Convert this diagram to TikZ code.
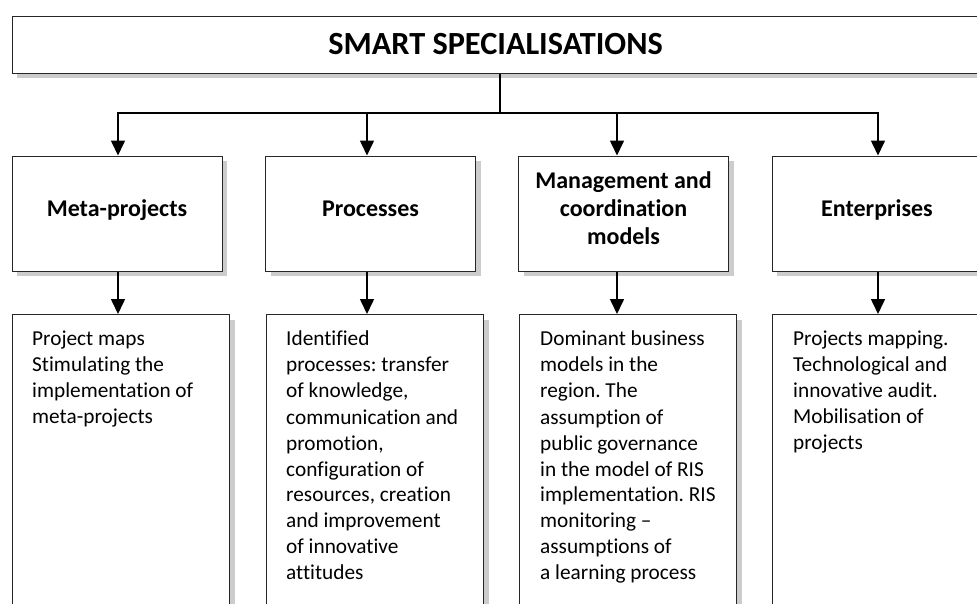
\documentclass[tikz,border=0pt]{standalone}
\usepackage{fontspec}
\setmainfont{Carlito}[Ligatures=NoCommon]
\usetikzlibrary{arrows.meta,shadows}

\tikzset{
	box/.style={shape=rectangle,draw=black!85,line width=1pt,fill=white,
		drop shadow={shadow xshift=5pt,shadow yshift=-5pt,fill=black!20,opacity=1}},
	head/.style={box,font=\fontsize{24}{28}\selectfont\bfseries,align=center,
		minimum width=210pt,minimum height=115pt,inner sep=0pt},
	oneline/.style={text height=17pt,text depth=10.6pt},
	body/.style={box,anchor=north west,minimum width=217pt,minimum height=320pt},
	txt/.style={anchor=north west,align=left,inner sep=0pt,font=\fontsize{21.3}{26}\selectfont},
	link/.style={line width=1.6pt,-{Triangle[length=15pt,width=14pt]}}
}

\begin{document}
\frenchspacing
\begin{tikzpicture}[x=1pt,y=-1pt]
	\clip (0,0) rectangle (977,603);

	\node[box,font=\fontsize{32.3}{38}\selectfont\bfseries,minimum width=967pt,minimum height=57pt] (top) at (495.5,44.5) {SMART SPECIALISATIONS};

	\node[head,oneline] (mp) at (117,213.5)   {Meta-projects};
	\node[head,oneline] (pr) at (370.5,213.5) {Processes};
	\node[head,text depth=10pt] (mc) at (623.5,213.5) {Management and\\coordination\\models};
	\node[head,oneline] (en) at (877,213.5)   {Enterprises};

	\node[body] (bmp) at (12,314)  {};
	\node[body] (bpr) at (266,314) {};
	\node[body] (bmc) at (519,314) {};
	\node[body] (ben) at (772,314) {};

	\node[txt] (tmp) at ([xshift=20pt,yshift=-17pt]bmp.north west) {Project maps\\Stimulating the\\implementation of\\meta-projects};
	\node[txt] (tpr) at ([xshift=20pt,yshift=-17pt]bpr.north west) {Identified\\processes: transfer\\of knowledge,\\communication and\\promotion,\\configuration of\\resources, creation\\and improvement\\of innovative\\attitudes};
	\node[txt] (tmc) at ([xshift=21pt,yshift=-17pt]bmc.north west) {Dominant business\\models in the\\region. The\\assumption of\\public governance\\in the model of RIS\\implementation. RIS\\monitoring --\\assumptions of\\a learning process};
	\node[txt] (ten) at ([xshift=21pt,yshift=-17pt]ben.north west) {Projects mapping.\\Technological and\\innovative audit.\\Mobilisation of\\projects};

	% branching
	\coordinate (hub) at (500,113);
	\coordinate (j1) at (118,113);
	\coordinate (j2) at (367,113);
	\coordinate (j3) at (617,113);
	\coordinate (j4) at (878,113);
	\draw[line width=1.6pt] (top.south -| hub) -- (hub);
	\draw[line width=1.6pt,line cap=rect] (j1) -- (j4);

	\draw[link] (j1) -- (j1 |- mp.north);
	\draw[link] (j2) -- (j2 |- pr.north);
	\draw[link] (j3) -- (j3 |- mc.north);
	\draw[link] (j4) -- (j4 |- en.north);

	\draw[link] (mp.south -| j1) -- (j1 |- bmp.north);
	\draw[link] (pr.south -| j2) -- (j2 |- bpr.north);
	\draw[link] (mc.south -| j3) -- (j3 |- bmc.north);
	\draw[link] (en.south -| j4) -- (j4 |- ben.north);
\end{tikzpicture}
\end{document}
